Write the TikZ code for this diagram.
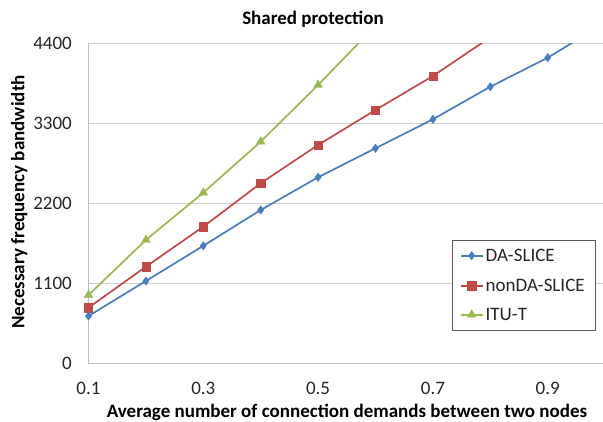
\documentclass[tikz,border=0pt]{standalone}
\usepackage{fontspec}
\setmainfont{Carlito}
\usetikzlibrary{plotmarks}
\definecolor{sblue}{HTML}{4A7EBB}
\definecolor{sred}{HTML}{BE4B48}
\definecolor{sgreen}{HTML}{98B954}
\definecolor{gridgray}{HTML}{D0D0D0}
\definecolor{axisgray}{HTML}{BFBFBF}
\definecolor{legendborder}{HTML}{595959}
\begin{document}
\begin{tikzpicture}[x=1pt,y=1pt,
  font=\fontsize{19}{22}\selectfont,
  lbl/.style={inner sep=0pt, text=black!85},
  ttl/.style={inner sep=0pt, font=\fontsize{19}{22}\selectfont\bfseries, text=black},
  gridline/.style={draw=gridgray, line width=1pt},
  axisline/.style={draw=axisgray, line width=1pt},
  serblue/.style={draw=sblue, line width=1.7pt, mark=diamond*, mark size=4.2pt, mark options={solid, fill=sblue, draw=sblue, line width=0.4pt}},
  serred/.style={draw=sred, line width=1.7pt, mark=square*, mark size=4.1pt, mark options={solid, fill=sred, draw=sred, line width=0.4pt}},
  sergreen/.style={draw=sgreen, line width=1.7pt, mark=triangle*, mark size=5pt, mark options={solid, fill=sgreen, draw=sgreen, line width=0.4pt}}
]
\useasboundingbox (0,0) rectangle (603,422);
\fill[white] (0,0) rectangle (603,422);

\begin{scope}[x=574pt, y=0.072909pt, shift={(31.1pt,58pt)}]
  % gridlines
  \foreach \v in {1100,2200,3300,4400} {
    \draw[gridline] (0.1,\v) -- (1.05,\v);
  }
  \draw[axisline] (0.1,4400) -- (0.1,0) -- (1.05,0);
  % series
  \begin{scope}
    \clip (0,-600) rectangle (1.05,4400);
    \draw[sergreen] plot coordinates {(0.1,946) (0.2,1701) (0.3,2350) (0.4,3049) (0.5,3827) (0.6,4640)};
    \draw[serred] plot coordinates {(0.1,772) (0.2,1335) (0.3,1883) (0.4,2479) (0.5,3004) (0.6,3484) (0.7,3950) (0.8,4480)};
    \draw[serblue] plot coordinates {(0.1,658) (0.2,1138) (0.3,1621) (0.4,2112) (0.5,2561) (0.6,2959) (0.7,3356) (0.8,3803) (0.9,4201) (1.0,4680)};
  \end{scope}
  % x tick labels
  \foreach \t [count=\i] in {0.1,0.3,0.5,0.7,0.9} {
    \node[lbl, anchor=base] (xt\i) at (\t,-425) {\t};
  }
\end{scope}

% y tick labels
\node[lbl, anchor=base east] (yt0) at (72,52) {0};
\node[lbl, anchor=base east] (yt1) at (72,132.2) {1100};
\node[lbl, anchor=base east] (yt2) at (72,212.4) {2200};
\node[lbl, anchor=base east] (yt3) at (72,292.6) {3300};
\node[lbl, anchor=base east] (yt4) at (72,372.8) {4400};

% titles
\node[ttl, anchor=base] (title) at (313,397) {Shared protection};
\node[ttl, anchor=base] (xtitle) at (347,4) {Average number of connection demands between two nodes};
\node[ttl, anchor=base, rotate=90] (ytitle) at (24.5,220) {Necessary frequency bandwidth};

% legend
\node[draw=legendborder, line width=1pt, fill=white, minimum width=143pt, minimum height=90pt, anchor=north west, inner sep=0pt] (legend) at (451.7,182) {};
\coordinate (lb1) at (460.7,166.3);
\coordinate (le1) at (482.7,166.3);
\coordinate (lb2) at (460.7,136.3);
\coordinate (le2) at (482.7,136.3);
\coordinate (lb3) at (460.7,107.3);
\coordinate (le3) at (482.7,107.3);
\draw[serblue] plot[mark indices={2}] coordinates {(lb1) (471.7,166.3) (le1)};
\draw[serred] plot[mark indices={2}] coordinates {(lb2) (471.7,136.3) (le2)};
\draw[sergreen] plot[mark indices={2}] coordinates {(lb3) (471.7,107.3) (le3)};
\node[lbl, anchor=base west] (leg1) at (485.5,160.3) {DA-SLICE};
\node[lbl, anchor=base west] (leg2) at (485.5,130.3) {nonDA-SLICE};
\node[lbl, anchor=base west] (leg3) at (485.5,101.3) {ITU-T};
\end{tikzpicture}
\end{document}
